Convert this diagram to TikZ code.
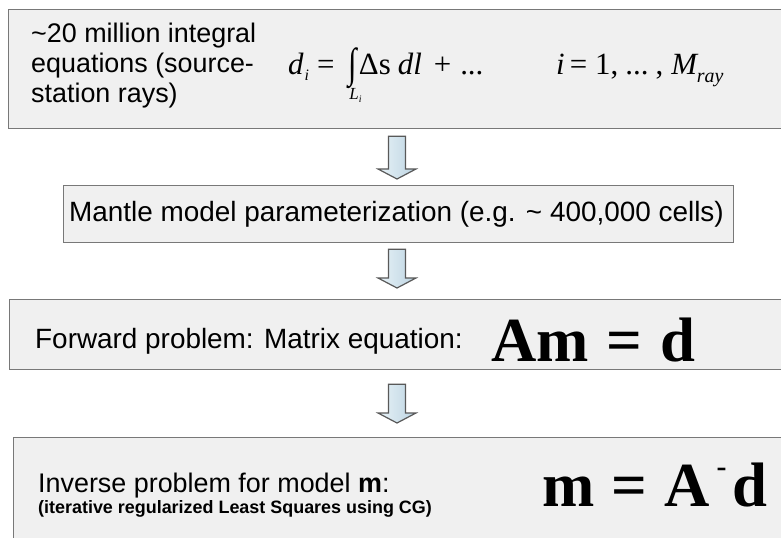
\documentclass[tikz,border=0pt]{standalone}
\usepackage{fontspec}
\setmainfont{Liberation Sans}
\newfontfamily\serifeq{Liberation Serif}
\usetikzlibrary{calc}

\definecolor{panelgray}{RGB}{240,240,240}
\definecolor{edgegray}{RGB}{120,120,120}
\definecolor{arrowlight}{RGB}{232,242,247}
\definecolor{arrowdark}{RGB}{188,212,226}

% hollow block arrow from one box down to the next
\newcommand{\flowarrow}[4]{%
  \draw[flow] let \p1=(#1.south -| axis), \p2=(#2.north -| axis) in
    (\x1-8.5bp,\y1-#3bp) -- (\x1+8.5bp,\y1-#3bp) -- (\x1+8.5bp,\y2+#4bp+10bp)
    -- (\x1+19bp,\y2+#4bp+10bp) -- (\x1,\y2+#4bp) -- (\x1-19bp,\y2+#4bp+10bp)
    -- (\x1-8.5bp,\y2+#4bp+10bp) -- cycle;}

\begin{document}
\begin{tikzpicture}[x=1bp, y=-1bp,
    panel/.style={draw=edgegray, line width=1.3bp, fill=panelgray, inner sep=0pt},
    flow/.style={draw=black!65, line width=1.2bp, left color=arrowlight, right color=arrowdark},
    txt/.style={anchor=base west, inner sep=0pt, font=\fontsize{27}{30}\selectfont},
    eq/.style={anchor=base west, inner sep=0pt, font=\fontsize{31}{34}\selectfont\serifeq},
    bigeq/.style={anchor=base west, inner sep=0pt, font=\fontsize{63}{66}\selectfont\serifeq\bfseries}]
        \useasboundingbox (0,0) rectangle (781,538);
        \clip (0,0) rectangle (781,538);
        \coordinate (axis) at (397,0);

        % Boxes
        \node[panel, anchor=north west, minimum width=790bp, minimum height=119bp] (rays) at (8,9) {};
        \node[panel, anchor=north west, minimum width=670bp, minimum height=57bp] (mantle) at (63,185) {};
        \node[panel, anchor=north west, minimum width=790bp, minimum height=70bp] (forward) at (9,299) {};
        \node[panel, anchor=north west, minimum width=790bp, minimum height=130bp] (inverse) at (13,437) {};

        % Integral equations
        \node[txt] (rayline1) at (31,43) {\textasciitilde20 million integral};
        \node[txt] (rayline2) at (31,73) {equations (source-};
        \node[txt] (rayline3) at (31,103) {station rays)};
        \node[eq] (integral) at (288,75) {\itshape d\kern1bp\raisebox{-6bp}{\fontsize{16}{16}\selectfont i}\hspace{8bp}\upshape =\hspace{14bp}\rlap{\kern1bp\raisebox{-25bp}{\fontsize{17}{17}\selectfont\itshape L\raisebox{-3bp}{\fontsize{10}{10}\selectfont i}}}\raisebox{-3bp}{\scalebox{1}[1.35]{∫}}\kern2bp Δs\kern7bp\itshape dl\upshape\hspace{12bp}+\hspace{9bp}...};
        \node[eq] (rayindex) at (556,75) {\itshape i\upshape\kern5bp=\kern8bp1,\kern7bp...\kern7bp,\kern8bp\itshape M\raisebox{-8bp}{\fontsize{20}{20}\selectfont ray}};

        % Parameterization
        \node[txt, font=\fontsize{28}{30}\selectfont] (mantlelabel) at (69,222) {Mantle model parameterization (e.g. \textasciitilde{} 400,000 cells)};

        % Forward problem
        \node[txt, font=\fontsize{28}{30}\selectfont] (fwdlabel) at (35,348) {Forward problem: Matrix equation:};
        \node[bigeq] (fwdeq) at (491,361) {Am\hspace{18bp}=\hspace{18bp}d};

        % Inverse problem
        \node[txt] (invlabel) at (38,492) {Inverse problem for model \textbf{m}:};
        \node[txt, font=\fontsize{18}{20}\selectfont\bfseries] (invnote) at (38,513) {(iterative regularized Least Squares using CG)};
        \node[bigeq] (inveq) at (542,506) {m\hspace{17bp}=\hspace{17bp}A\kern7bp\raisebox{30bp}{\fontsize{30}{30}\selectfont -}\kern6bp d};

        % Arrows
        \flowarrow{rays}{mantle}{7}{6}
        \flowarrow{mantle}{forward}{6}{11}
        \flowarrow{forward}{inverse}{14}{14}
    \end{tikzpicture}
\end{document}
